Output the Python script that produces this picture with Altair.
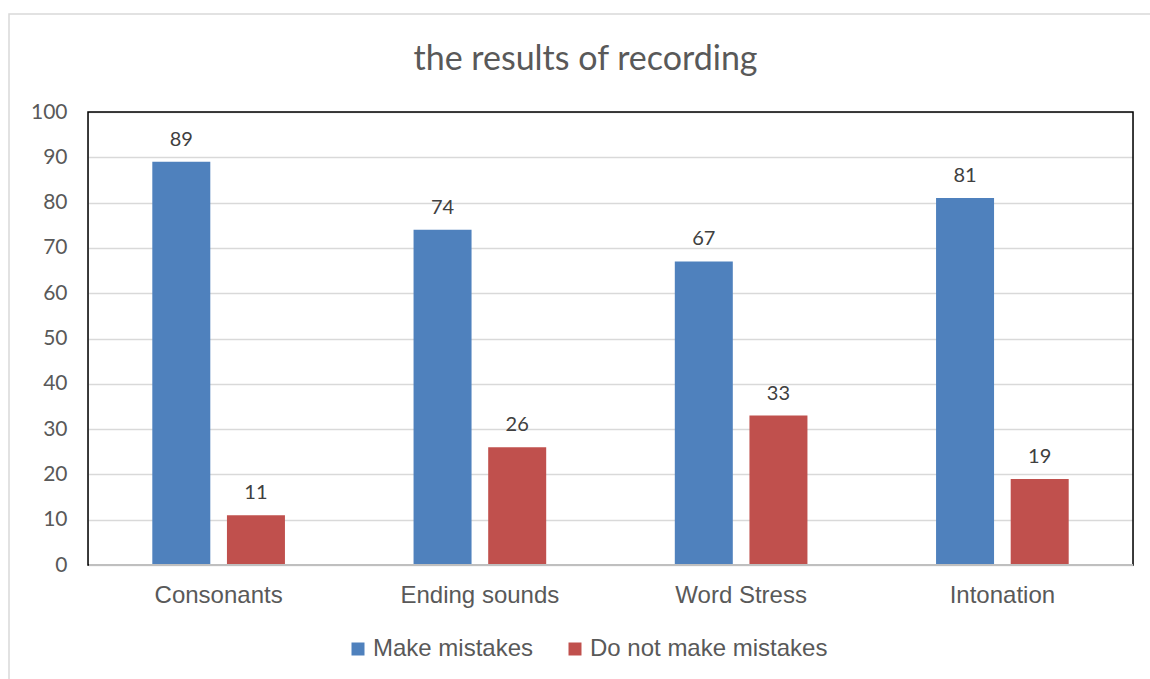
import altair as alt
import pandas as pd

categories = ["Consonants", "Ending sounds", "Word Stress", "Intonation"]
series = ["Make mistakes", "Do not make mistakes"]
make_mistakes = [89, 74, 67, 81]
no_mistakes = [11, 26, 33, 19]
colors = ["#4F81BD", "#C0504D"]

rows = []
for c, a, b in zip(categories, make_mistakes, no_mistakes):
    rows.append({"category": c, "series": series[0], "value": a})
    rows.append({"category": c, "series": series[1], "value": b})
df = pd.DataFrame(rows)

W, H = 1045, 453

x = alt.X("category:N", sort=categories, title=None,
          scale=alt.Scale(paddingInner=0.49, paddingOuter=0.245),
          axis=alt.Axis(labelAngle=0, labelFont="Liberation Sans", labelFontSize=24,
                        labelColor="#595959", labelPadding=18, ticks=False,
                        domain=False))
xoff = alt.XOffset("series:N", sort=series,
                   scale=alt.Scale(paddingInner=0.215, paddingOuter=0))
y = alt.Y("value:Q", title=None,
          scale=alt.Scale(domain=[0, 100], nice=False),
          axis=alt.Axis(values=list(range(0, 101, 10)), labelFont="Lato", labelFontSize=21,
                        labelColor="#595959", labelPadding=21, ticks=False, domain=False,
                        gridColor="#D9D9D9", gridWidth=1.5))

one = pd.DataFrame({"a": [0]})

frame = alt.Chart(one).mark_rect(
    fillOpacity=0, stroke="#D9D9D9", strokeWidth=1.5
).encode(x=alt.value(-79), x2=alt.value(1075), y=alt.value(-98), y2=alt.value(580))

border = alt.Chart(one).mark_rect(
    fillOpacity=0, stroke="#000000", strokeWidth=1.5
).encode(x=alt.value(0), x2=alt.value(W), y=alt.value(0), y2=alt.value(H))

baseline = alt.Chart(one).mark_rule(color="#BFBFBF", strokeWidth=2).encode(
    x=alt.value(1), x2=alt.value(W), y=alt.value(H))

bars = alt.Chart(df).mark_bar(size=58).encode(
    x=x, xOffset=xoff, y=y,
    color=alt.Color("series:N", sort=series,
                    scale=alt.Scale(domain=series, range=colors),
                    legend=alt.Legend(title=None, orient="none", direction="horizontal",
                                      legendX=258, legendY=525,
                                      symbolType="square", symbolSize=169,
                                      symbolStrokeWidth=0, labelLimit=400,
                                      labelFont="Liberation Sans", labelFontSize=24,
                                      labelColor="#595959", columnPadding=29,
                                      labelOffset=3)),
)

labels = alt.Chart(df).mark_text(
    font="Lato", fontSize=20, color="#404040", baseline="middle", dy=-22
).encode(x=alt.X("category:N", sort=categories), xOffset=alt.XOffset("series:N", sort=series),
         y="value:Q", text="value:Q")

chart = alt.layer(frame, bars, border, baseline, labels).properties(
    width=W, height=H,
    title=alt.TitleParams("the results of recording", font="Lato", fontSize=34,
                          fontWeight="normal", color="#595959", anchor="middle",
                          frame="group", dx=-25, offset=10, dy=74),
    padding={"left": 88, "top": 112, "right": 17, "bottom": 114},
    autosize=alt.AutoSizeParams(type="none"),
).configure_view(stroke=None).configure(background="white")

chart.save("out.html", embed_options={"renderer": "svg", "actions": False})
